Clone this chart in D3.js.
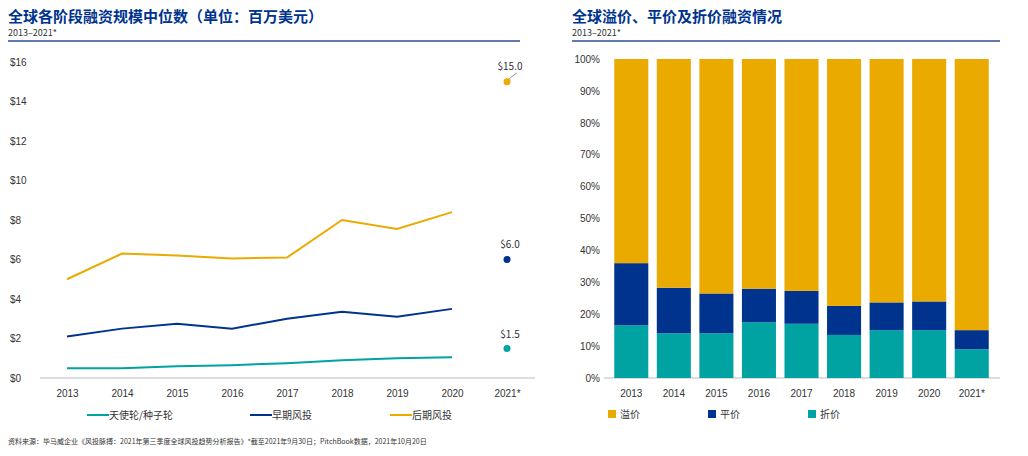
<!DOCTYPE html>
<html><head><meta charset="utf-8">
<script src="https://cdn.jsdelivr.net/npm/d3@7"></script>
<style>body{margin:0;background:#fff;font-family:"Noto Sans CJK SC","Noto Sans",sans-serif}</style>
</head><body><svg id="c" width="1028" height="456"></svg>
<script>
const years = ["2013","2014","2015","2016","2017","2018","2019","2020"];
const angel = [0.5,0.5,0.6,0.65,0.75,0.9,1.0,1.05];
const early = [2.1,2.5,2.75,2.5,3.0,3.35,3.1,3.5];
const late = [5.0,6.3,6.2,6.05,6.1,8.0,7.55,8.4];
const dots2021 = [1.5,6.0,15.0];
const barYears = ["2013","2014","2015","2016","2017","2018","2019","2020","2021*"];
const discount = [16.5,14,14,17.5,17,13.5,15,15,9];
const flat = [19.5,14.3,12.5,10.5,10.3,9.1,8.7,9,6];
const premium = discount.map((d,i)=>100-d-flat[i]);
const TEAL="#00A3A1", NAVY="#00338D", GOLD="#EAAA00";

const svg=d3.select("#c");
// titles
svg.append("text").attr("x",8).attr("y",22).attr("font-size",15).attr("font-weight","bold").attr("fill",NAVY).text("全球各阶段融资规模中位数（单位：百万美元）");
svg.append("text").attr("x",8).attr("y",36).attr("font-size",9).attr("fill","#333").text("2013–2021*");
svg.append("line").attr("x1",8).attr("x2",520).attr("y1",41).attr("y2",41).attr("stroke","#2E4E9A").attr("stroke-width",1.5);
svg.append("text").attr("x",572).attr("y",22).attr("font-size",15).attr("font-weight","bold").attr("fill",NAVY).text("全球溢价、平价及折价融资情况");
svg.append("text").attr("x",572).attr("y",36).attr("font-size",9).attr("fill","#333").text("2013–2021*");
svg.append("line").attr("x1",572).attr("x2",1000).attr("y1",41).attr("y2",41).attr("stroke","#2E4E9A").attr("stroke-width",1.5);

// left chart
const x=d3.scalePoint().domain([...years,"2021*"]).range([67,507]);
const y=d3.scaleLinear().domain([0,16]).range([378,62]);
const ya=svg.append("g").attr("transform","translate(10,0)").call(d3.axisLeft(y).ticks(8).tickSize(0).tickFormat(d=>"$"+d));
ya.select(".domain").remove();
ya.selectAll("text").attr("font-size",10).attr("fill","#333").attr("x",0).attr("text-anchor","start");
svg.append("line").attr("x1",40).attr("x2",535).attr("y1",378).attr("y2",378).attr("stroke","#bbb");
const xa=svg.append("g").attr("transform","translate(0,378)").call(d3.axisBottom(x).tickSize(0).tickPadding(12));
xa.select(".domain").remove();
xa.selectAll("text").attr("font-size",10).attr("fill","#333");
const line=d3.line().x((d,i)=>x(years[i])).y(d=>y(d));
[[angel,TEAL],[early,NAVY],[late,GOLD]].forEach(([s,c],k)=>{
  svg.append("path").datum(s).attr("d",line).attr("fill","none").attr("stroke",c).attr("stroke-width",2);
  svg.append("circle").attr("cx",x("2021*")).attr("cy",y(dots2021[k])).attr("r",3.5).attr("fill",c);
  svg.append("text").attr("x",x("2021*")+3).attr("y",y(dots2021[k])-[10,12,12][k]).attr("text-anchor","middle").attr("font-size",10).attr("fill","#333").text("$"+dots2021[k].toFixed(1));
});
svg.append("line").attr("x1",x("2021*")+2).attr("y1",y(15)-3).attr("x2",x("2021*")+10).attr("y2",y(15)-9).attr("stroke","#999");
const legL=[["天使轮/种子轮",TEAL,95],["早期风投",NAVY,258],["后期风投",GOLD,398]];
legL.forEach(([t,c,lx])=>{
  svg.append("line").attr("x1",lx-8).attr("x2",lx+14).attr("y1",415).attr("y2",415).attr("stroke",c).attr("stroke-width",2);
  svg.append("text").attr("x",lx+14).attr("y",419).attr("font-size",10).attr("fill","#333").text(t);
});
svg.append("text").attr("x",8).attr("y",444).attr("font-size",7).attr("fill","#333").text("资料来源：毕马威企业《风投脉搏：2021年第三季度全球风投趋势分析报告》*截至2021年9月30日；PitchBook数据，2021年10月20日");

// right chart
const xb=d3.scaleBand().domain(barYears).range([610,993]).paddingInner(0.2).paddingOuter(0.1);
const yb=d3.scaleLinear().domain([0,100]).range([378,59]);
const yba=svg.append("g").attr("transform","translate(604,0)").call(d3.axisLeft(yb).ticks(10).tickSize(0).tickPadding(4).tickFormat(d=>d+"%"));
yba.select(".domain").remove();
yba.selectAll("text").attr("font-size",10).attr("fill","#333");
svg.append("line").attr("x1",604).attr("x2",1000).attr("y1",378).attr("y2",378).attr("stroke","#bbb");
const xba=svg.append("g").attr("transform","translate(0,378)").call(d3.axisBottom(xb).tickSize(0).tickPadding(12));
xba.select(".domain").remove();
xba.selectAll("text").attr("font-size",10).attr("fill","#333");
const rows=barYears.map((yr,i)=>({yr,discount:discount[i],flat:flat[i],premium:premium[i]}));
const stack=d3.stack().keys(["discount","flat","premium"])(rows);
const cols={discount:TEAL,flat:NAVY,premium:GOLD};
stack.forEach(s=>{
  svg.append("g").selectAll("rect").data(s).join("rect")
    .attr("x",d=>xb(d.data.yr)).attr("width",xb.bandwidth())
    .attr("y",d=>yb(d[1])).attr("height",d=>yb(d[0])-yb(d[1])).attr("fill",cols[s.key]);
});
[["溢价",GOLD,608],["平价",NAVY,708],["折价",TEAL,808]].forEach(([t,c,lx])=>{
  svg.append("rect").attr("x",lx).attr("y",410).attr("width",8).attr("height",8).attr("fill",c);
  svg.append("text").attr("x",lx+12).attr("y",418).attr("font-size",10).attr("fill","#333").text(t);
});
</script></body></html>
